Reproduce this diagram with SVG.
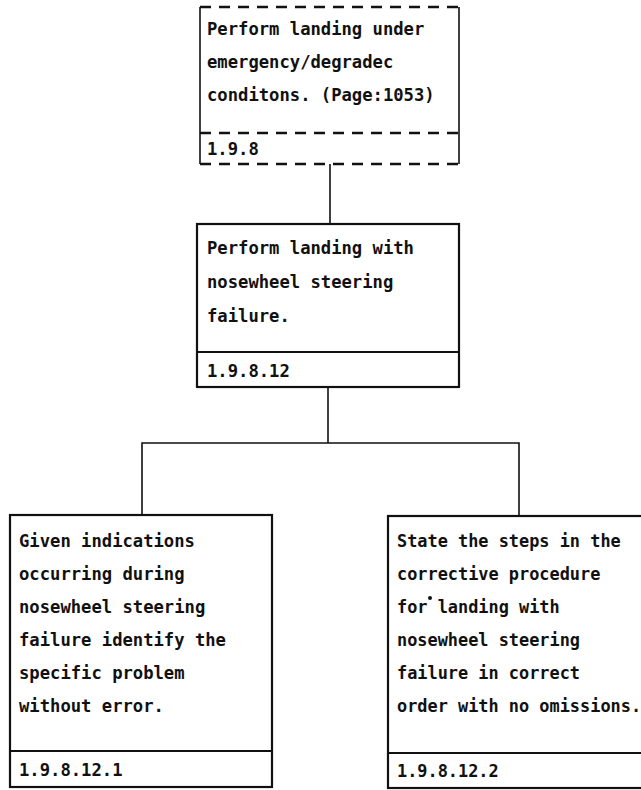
<svg xmlns="http://www.w3.org/2000/svg" width="641" height="790" viewBox="0 0 641 790">
  <style>
    .box { fill: none; stroke: #111; stroke-width: 2.2; }
    .dash { fill: none; stroke: #111; stroke-width: 2.6; stroke-dasharray: 11 8; }
    .side { fill: none; stroke: #111; stroke-width: 1.6; }
    .wire { fill: none; stroke: #111; stroke-width: 1.6; }
    text { font-family: "DejaVu Sans Mono", "Liberation Mono", monospace; font-size: 17.2px; font-weight: bold; fill: #111; }
    .narrow { font-size: 16.9px; }
  </style>
  <rect width="641" height="790" fill="#fff"/>

  <!-- tree connectors -->
  <g id="connectors">
    <line class="wire" x1="330" y1="164" x2="330" y2="224"/>
    <line class="wire" x1="328" y1="387" x2="328" y2="443"/>
    <polyline class="wire" points="142,515 142,443 519,443 519,516"/>
  </g>

  <!-- 1.9.8 (dashed outline) -->
  <g id="node-1-9-8">
    <line class="dash" x1="200" y1="7" x2="460" y2="7"/>
    <line class="dash" x1="200" y1="133" x2="460" y2="133"/>
    <line class="dash" x1="200" y1="164" x2="460" y2="164"/>
    <line class="side" x1="200" y1="7" x2="200" y2="164"/>
    <line class="side" x1="459" y1="7" x2="459" y2="164"/>
    <text x="207" y="35">Perform landing under</text>
    <text x="207" y="68">emergency/degradec</text>
    <text x="207" y="101">conditons. (Page:1053)</text>
    <text x="207" y="155">1.9.8</text>
  </g>

  <!-- 1.9.8.12 -->
  <g id="node-1-9-8-12">
    <rect class="box" x="197" y="224" width="262" height="163"/>
    <line class="box" x1="197" y1="352" x2="459" y2="352"/>
    <text x="207" y="254">Perform landing with</text>
    <text x="207" y="288">nosewheel steering</text>
    <text x="207" y="322">failure.</text>
    <text x="207" y="377">1.9.8.12</text>
  </g>

  <!-- 1.9.8.12.1 -->
  <g id="node-1-9-8-12-1">
    <rect class="box" x="10" y="515" width="262" height="272"/>
    <line class="box" x1="10" y1="751" x2="272" y2="751"/>
    <text x="19" y="547">Given indications</text>
    <text x="19" y="580">occurring during</text>
    <text x="19" y="613">nosewheel steering</text>
    <text x="19" y="646">failure identify the</text>
    <text x="19" y="679">specific problem</text>
    <text x="19" y="712">without error.</text>
    <text x="19" y="776">1.9.8.12.1</text>
  </g>

  <!-- 1.9.8.12.2 -->
  <g id="node-1-9-8-12-2">
    <rect class="box" x="388" y="516" width="262" height="272"/>
    <line class="box" x1="388" y1="753" x2="650" y2="753"/>
    <text class="narrow" x="397" y="547">State the steps in the</text>
    <text class="narrow" x="397" y="580">corrective procedure</text>
    <text class="narrow" x="397" y="613">for landing with</text>
    <text class="narrow" x="397" y="646">nosewheel steering</text>
    <text class="narrow" x="397" y="679">failure in correct</text>
    <text class="narrow" x="397" y="712">order with no omissions.</text>
    <text class="narrow" x="397" y="777">1.9.8.12.2</text>
    <circle cx="430" cy="598" r="2" fill="#111"/>
  </g>
</svg>
